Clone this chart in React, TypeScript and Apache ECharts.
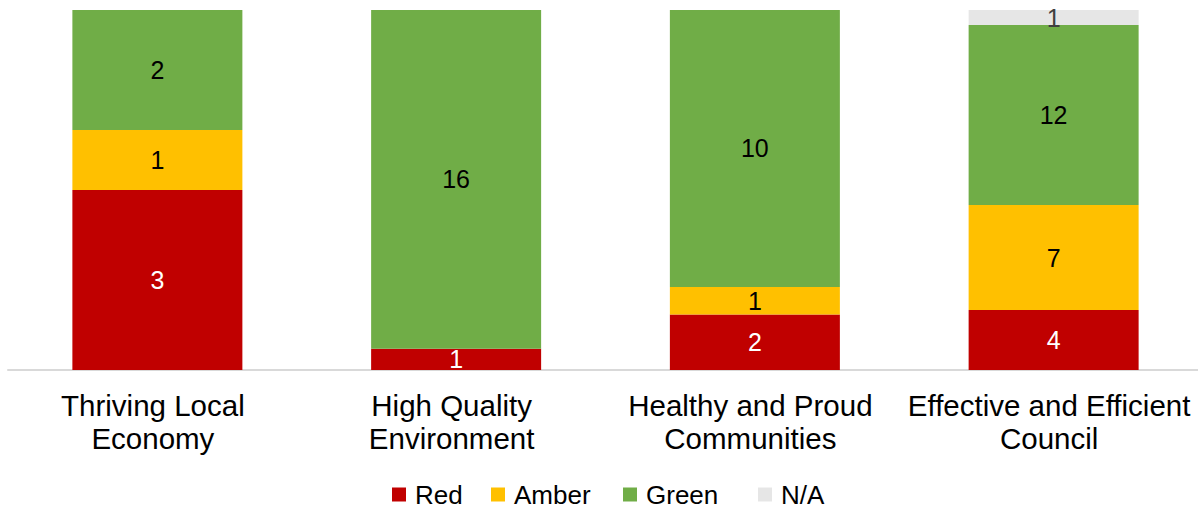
import React, { useEffect, useRef } from "react";
import * as echarts from "echarts";

const categories = [
  "Thriving Local\nEconomy",
  "High Quality\nEnvironment",
  "Healthy and Proud\nCommunities",
  "Effective and Efficient\nCouncil",
];
const seriesNames = ["Red", "Amber", "Green", "N/A"];
const redCounts = [3, 1, 2, 4];
const amberCounts = [1, 0, 1, 7];
const greenCounts = [2, 16, 10, 12];
const naCounts = [0, 0, 0, 1];
const colors = ["#C00000", "#FFC000", "#70AD47", "#E6E6E6"];
const labelColors = ["#FFFFFF", "#000000", "#000000", "#404040"];
const legendLefts = [392, 491, 623, 758];

export default function App() {
  const ref = useRef<HTMLDivElement>(null);
  useEffect(() => {
    if (!ref.current) return;
    const chart = echarts.init(ref.current, undefined, { renderer: "svg" });
    const counts = [redCounts, amberCounts, greenCounts, naCounts];
    const totals = categories.map((_, i) =>
      counts.reduce((s, arr) => s + arr[i], 0)
    );
    const font = "'Liberation Sans', Arial, sans-serif";
    const series = seriesNames.map((name, si) => ({
      name,
      type: "bar",
      stack: "total",
      barWidth: 170,
      itemStyle: { color: colors[si] },
      data: counts[si].map((c, i) => (c / totals[i]) * 100),
      label: {
        show: true,
        position: "inside",
        color: labelColors[si],
        fontSize: 25,
        fontFamily: font,
        formatter: (p: any) => {
          const c = counts[si][p.dataIndex];
          return c === 0 ? "" : String(c);
        },
      },
    }));
    const legends = seriesNames.map((name, si) => ({
      data: [name],
      left: legendLefts[si],
      top: 481.5,
      padding: 0,
      icon: "rect",
      itemWidth: 14,
      itemHeight: 14,
      textStyle: {
        fontSize: 26,
        lineHeight: 26,
        color: "#000000",
        fontFamily: font,
        padding: [0, 0, 0, 4],
      },
    }));
    chart.setOption({
      animation: false,
      backgroundColor: "#FFFFFF",
      grid: { left: 8, width: 1195, top: 10, height: 360, containLabel: false },
      legend: legends,
      xAxis: {
        type: "category",
        data: categories,
        axisLine: { lineStyle: { color: "#D9D9D9", width: 2 } },
        axisTick: { show: false },
        axisLabel: {
          fontSize: 29.5,
          lineHeight: 33,
          margin: 19,
          color: "#000000",
          fontFamily: font,
          interval: 0,
          padding: [0, 9, 0, 0],
        },
      },
      yAxis: {
        type: "value",
        min: 0,
        max: 100,
        show: false,
        splitLine: { show: false },
      },
      series,
    });
    return () => chart.dispose();
  }, []);
  return (
    <div
      style={{
        position: "absolute",
        left: 0,
        top: 0,
        width: 1198,
        height: 508,
        overflow: "hidden",
        background: "#FFFFFF",
      }}
    >
      <div ref={ref} style={{ width: 1210, height: 508 }} />
    </div>
  );
}
